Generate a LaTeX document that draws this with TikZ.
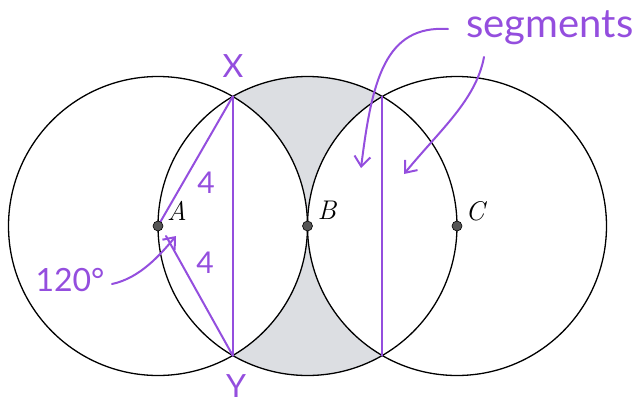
\documentclass[tikz,border=0pt]{standalone}
\usepackage{fontspec}
\newfontfamily\hand{Lato}
\usetikzlibrary{arrows.meta}
\definecolor{pen}{RGB}{148,78,222}
\definecolor{shadegray}{RGB}{220,222,226}
\definecolor{dotc}{RGB}{85,85,85}
\tikzset{
  circ/.style={draw=black, line width=1.3pt},
  penline/.style={draw=pen, line width=2pt, line cap=round},
  penarrow/.style={draw=pen, line width=2pt, line cap=round, -{Straight Barb[length=10pt,width=16pt,line width=2pt]}},
  handtxt/.style={text=pen, inner sep=0pt},
  ptdot/.style={circle, fill=dotc, draw=black, line width=0.6pt, minimum size=10pt, inner sep=0pt},
  ptlab/.style={inner sep=0pt}
}
\begin{document}
\begin{tikzpicture}[x=1pt,y=-1pt]
\useasboundingbox (0,0) rectangle (641,410);
\def\R{149.5}
\coordinate (A) at (158,226);
\coordinate (B) at (307.5,226);
\coordinate (C) at (457,226);
\coordinate (X) at (232.75,96.5);
\coordinate (Y) at (232.75,355.5);
\coordinate (P) at (382.25,96.5);
\coordinate (Q) at (382.25,355.5);
% shaded region
\begin{scope}
  \clip (B) circle (\R);
  \fill[shadegray, even odd rule] (-10,-10) rectangle (660,420) (A) circle (\R) (C) circle (\R);
\end{scope}
\draw[circ] (A) circle (\R);
\draw[circ] (B) circle (\R);
\draw[circ] (C) circle (\R);
% purple lines
\coordinate (Ay) at (166,236);
\draw[penline] (A) -- (X);
\draw[penline] (Ay) -- (Y);
\draw[penline] (X) -- (Y);
\draw[penline] (P) -- (Q);
% points
\node[ptdot] (dA) at (A) {};
\node[ptdot] (dB) at (B) {};
\node[ptdot] (dC) at (C) {};
\node[ptlab] (lA) at (177,211) {\fontsize{27}{30}\selectfont\itshape A};
\node[ptlab] (lB) at (327,210) {\fontsize{27}{30}\selectfont\itshape B};
\node[ptlab] (lC) at (475,211) {\fontsize{27}{30}\selectfont\itshape C};
% handwritten labels
\node[handtxt] (tX) at (233,66) {\hand\fontsize{32}{36}\selectfont X};
\node[handtxt] (tY) at (236,386) {\hand\fontsize{32}{36}\selectfont Y};
\node[handtxt] (t4a) at (206,183) {\hand\fontsize{30}{32}\selectfont 4};
\node[handtxt] (t4b) at (205,263) {\hand\fontsize{30}{32}\selectfont 4};
\node[handtxt] (t120) at (70,280) {\hand\fontsize{32}{36}\selectfont 120°};
\node[handtxt] (tseg) at (550,28) {\hand\fontsize{40}{42}\selectfont segments};
% arrows
\coordinate (a1s) at (112,284);
\coordinate (a1e) at (176,236);
\draw[penarrow] (a1s) .. controls (140,278) and (160,255) .. (a1e);
\coordinate (a2s) at (448,29);
\coordinate (a2e) at (361,168);
\draw[penarrow] (a2s) .. controls (385,25) and (372,80) .. (a2e);
\coordinate (a3s) at (484,57);
\coordinate (a3e) at (404,174);
\draw[penarrow] (a3s) .. controls (476,100) and (440,130) .. (a3e);
\end{tikzpicture}
\end{document}
